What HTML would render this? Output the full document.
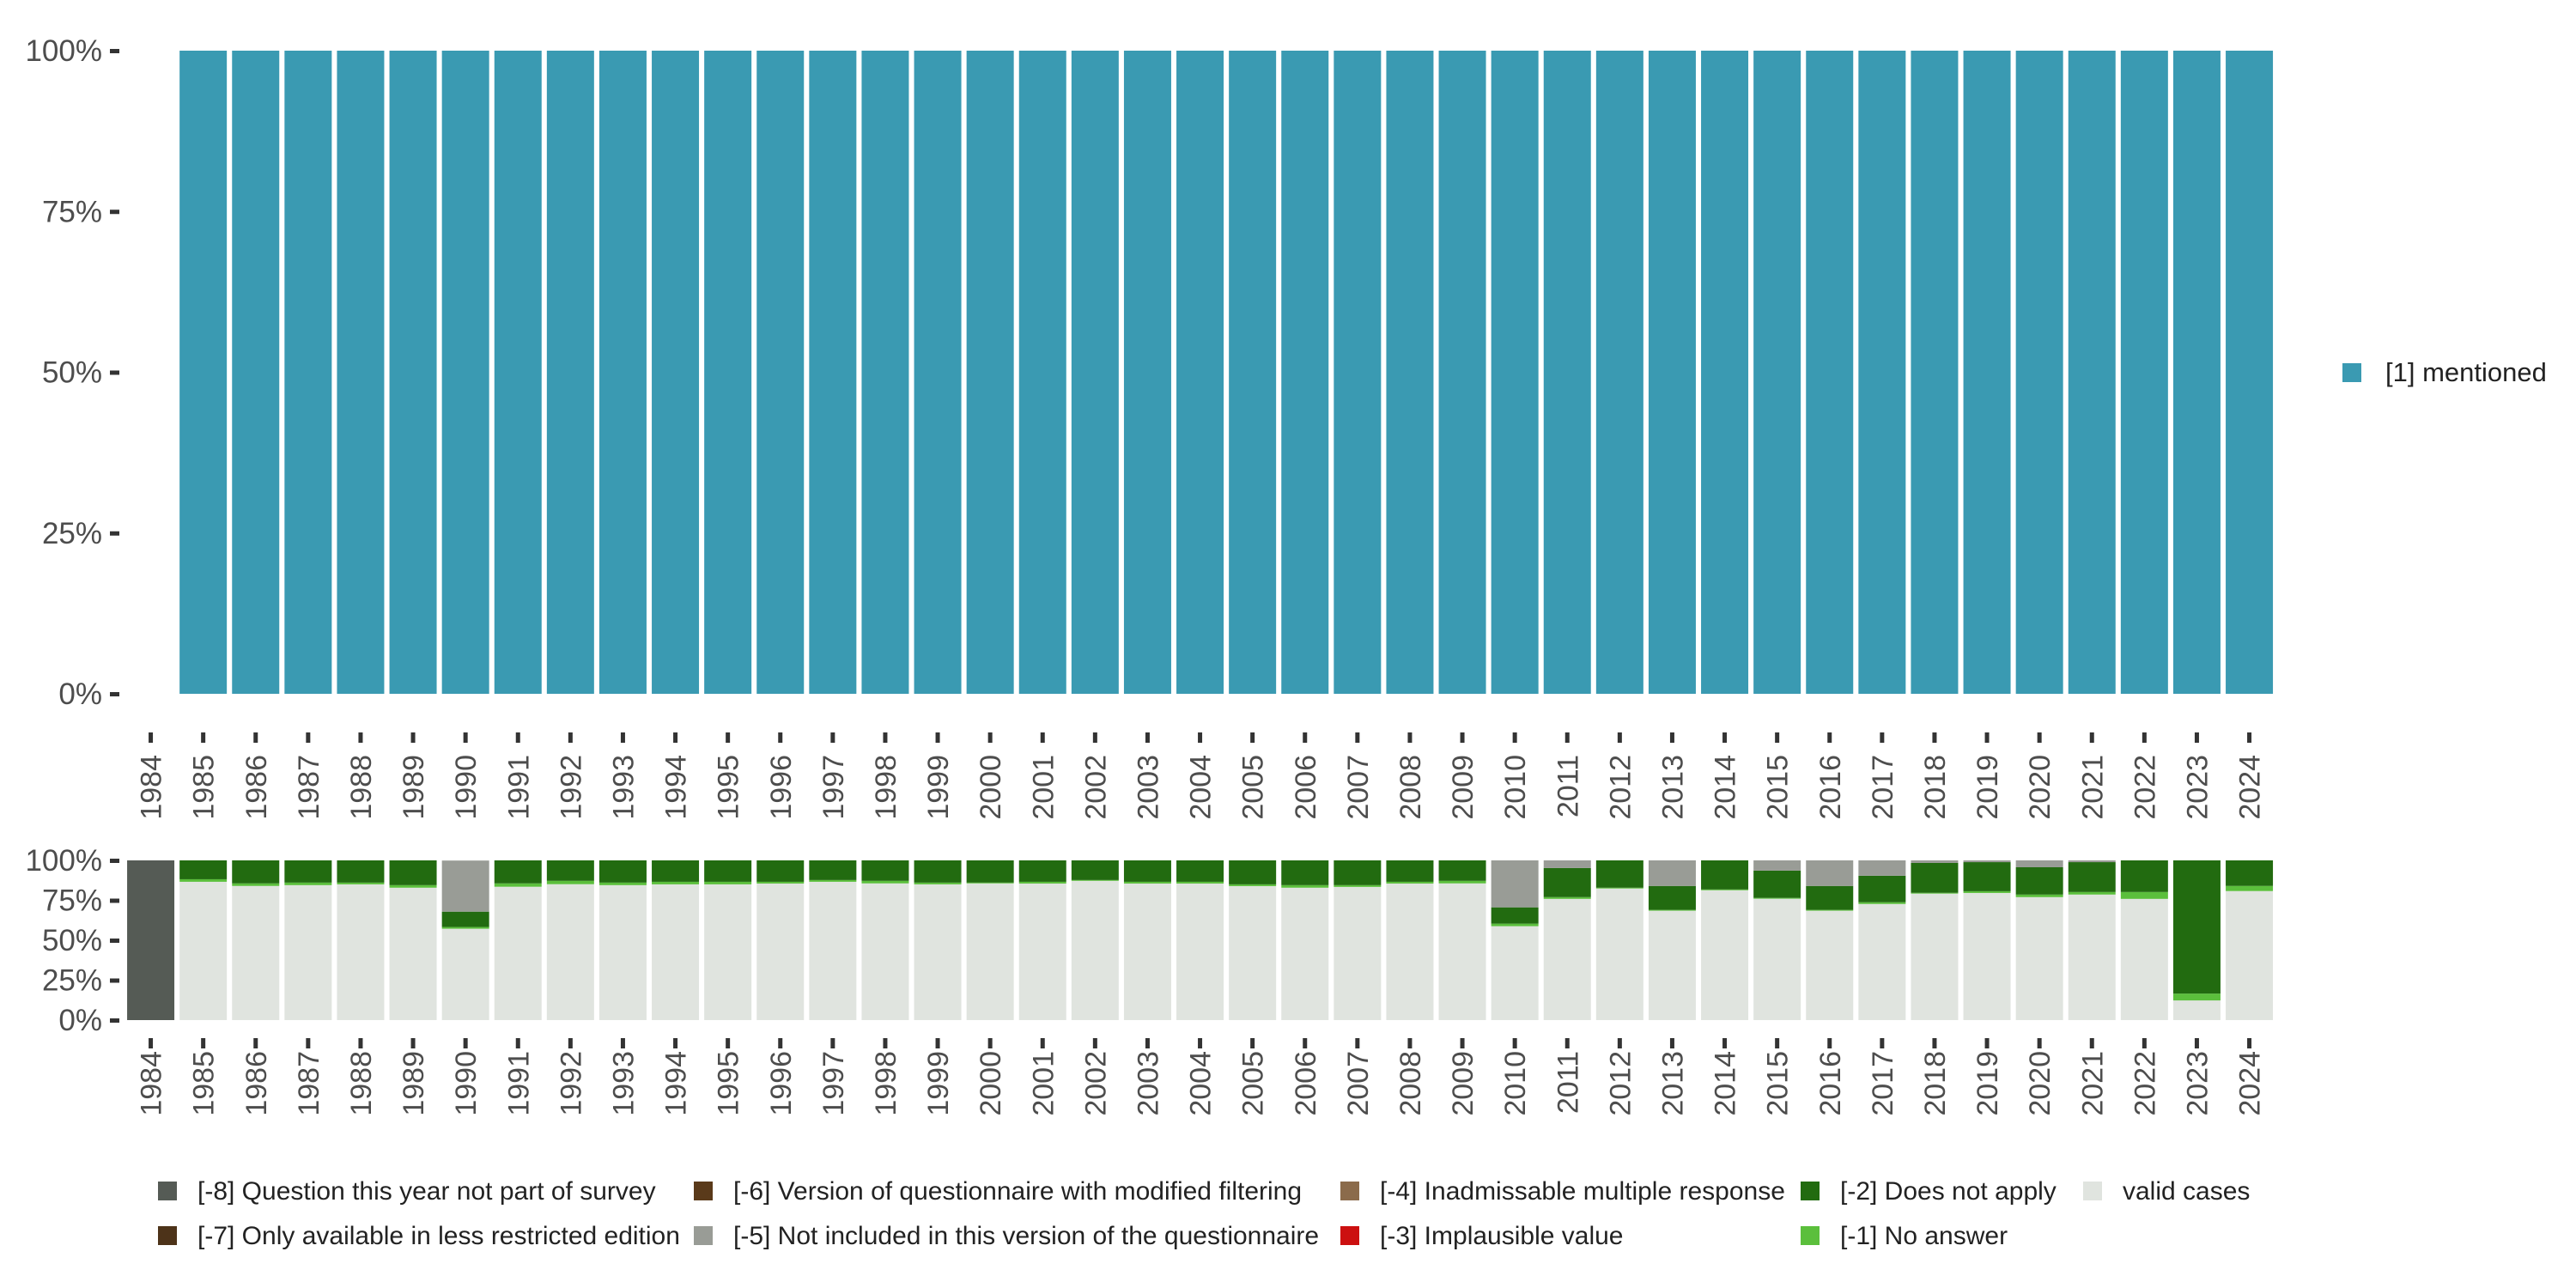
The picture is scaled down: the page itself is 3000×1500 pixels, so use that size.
<!DOCTYPE html>
<html><head><meta charset="utf-8"><style>
html,body{margin:0;padding:0;background:#fff;}
svg{display:block;font-family:"Liberation Sans",sans-serif;}
</style></head><body>
<svg id="chart" width="3000" height="1500" viewBox="0 0 3000 1500" xmlns="http://www.w3.org/2000/svg">
<g id="top"></g>
<g id="bot"></g>
<g>
<rect x="2728" y="423" width="22" height="22" fill="#3a9ab2"/>
<text x="2778" y="444" font-size="31" fill="#222">[1] mentioned</text>
</g>
<g id="leg"></g>
</svg>
<script>
const years = [];
for (let y = 1984; y <= 2024; y++) years.push(String(y));
const mentioned = [0].concat(Array(40).fill(100));
const yTicks = [0, 25, 50, 75, 100];
const yTickLabels = ["0%", "25%", "50%", "75%", "100%"];
// bottom panel shares (%), order from bottom: valid, -1, -2, -5, -8
const valid   = [0,86.6,84,84.5,85,82.9,57.2,83.5,85.1,84.5,85,85,85.5,86.6,85.6,85,85.6,85.5,87.2,85.5,85.5,83.9,82.9,83.4,85.5,85.6,58.8,75.9,82.4,68.5,81.3,76,68.5,72.7,79.2,79.6,77,78.6,75.9,12.3,80.8];
const noAnswer= [0,1.6,1.6,1.6,1.1,1.6,1.1,2.1,2.1,1.6,1.6,1.6,1.1,1.1,1.6,1.1,0.5,1.1,0.5,1.1,1.1,1.1,1.6,1.1,1.1,1.6,1.6,1.1,0.5,0.5,0.5,0.5,0.5,1.1,0.5,1.1,1.6,1.6,4.3,4.3,3.2];
const notApply= [0,11.8,14.4,13.9,13.9,15.5,9.6,14.4,12.8,13.9,13.4,13.4,13.4,12.3,12.8,13.9,13.9,13.4,12.3,13.4,13.4,15,15.5,15.5,13.4,12.8,10.2,18.2,17.1,15,18.2,17.1,15,16.6,18.7,18.2,17.1,18.7,19.8,83.4,16];
const notIncl = [0,0,0,0,0,0,32,0,0,0,0,0,0,0,0,0,0,0,0,0,0,0,0,0,0,0,29.4,4.8,0,16,0,6.4,16,9.6,1.6,1.1,4.3,1.1,0,0,0];
const notSurvey=[100].concat(Array(40).fill(0));

const NS = "http://www.w3.org/2000/svg";
function mk(tag, attrs, parent){const e=document.createElementNS(NS,tag);for(const k in attrs)e.setAttribute(k,attrs[k]);parent.appendChild(e);return e;}
const x0 = 145, band = 61.1, bw = 55;
function xc(i){return x0 + band*(i+0.5);}
function panel(g, top, bottom, tickY, labY){
  const ys = v => bottom - (bottom-top)*v/100;
  yTicks.forEach((t,i)=>{
    const tx = mk("text",{x:119,y:ys(t)+12,"font-size":35,"text-anchor":"end",fill:"#4d4d4d"},g);
    tx.textContent = yTickLabels[i];
    
    
    const tk = mk("rect",{x:128,y:ys(t)-2,width:11,height:5,fill:"#333"},g);
    
    
  });
  years.forEach((yr,i)=>{
    const tk = mk("rect",{x:xc(i)-2.5,y:tickY,width:5,height:12,fill:"#333"},g);
    
    
    const t = mk("text",{x:0,y:0,"font-size":34,fill:"#4d4d4d","text-anchor":"end",transform:`translate(${xc(i)+12},${labY}) rotate(-90)`},g);
    t.textContent = yr;
    
    
  });
  return ys;
}
const gt = document.getElementById("top");
const ysT = panel(gt, 59, 808, 853, 879);
mentioned.forEach((v,i)=>{
  if(!v) return;
  const r = mk("rect",{x:xc(i)-bw/2,y:ysT(v),width:bw,height:ysT(0)-ysT(v),fill:"#3a9ab2"},gt);
  
  
});
const gb = document.getElementById("bot");
const ysB = panel(gb, 1002, 1188, 1209, 1224);
const series = [["valid",valid,"#e0e4df"],["no-answer",noAnswer,"#5bbf3c"],["does-not-apply",notApply,"#226b10"],["not-included",notIncl,"#999c96"],["not-in-survey",notSurvey,"#555b55"]];
years.forEach((yr,i)=>{
  let cum = 0;
  series.forEach(([nm,arr,col])=>{
    const v = arr[i]; if(!v) return;
    const r = mk("rect",{x:xc(i)-bw/2,y:ysB(cum+v),width:bw,height:ysB(cum)-ysB(cum+v),fill:col},gb);
    
    
    cum += v;
  });
});
const legItems = [
 [184,1387,"#555b55","[-8] Question this year not part of survey"],
 [184,1439,"#4d3319","[-7] Only available in less restricted edition"],
 [808,1387,"#5a3a1a","[-6] Version of questionnaire with modified filtering"],
 [808,1439,"#999c96","[-5] Not included in this version of the questionnaire"],
 [1561,1387,"#8b6b4b","[-4] Inadmissable multiple response"],
 [1561,1439,"#cc1010","[-3] Implausible value"],
 [2097,1387,"#226b10","[-2] Does not apply"],
 [2097,1439,"#5bbf3c","[-1] No answer"],
 [2426,1387,"#e0e4df","valid cases"]];
const gl = document.getElementById("leg");
legItems.forEach(([x,y,c,l])=>{
  const r = mk("rect",{x:x,y:y-11,width:22,height:22,fill:c},gl);
  
  
  const t = mk("text",{x:x+46,y:y+10,"font-size":30,fill:"#222"},gl);
  t.textContent = l;
  
  
});
</script>
</body></html>
